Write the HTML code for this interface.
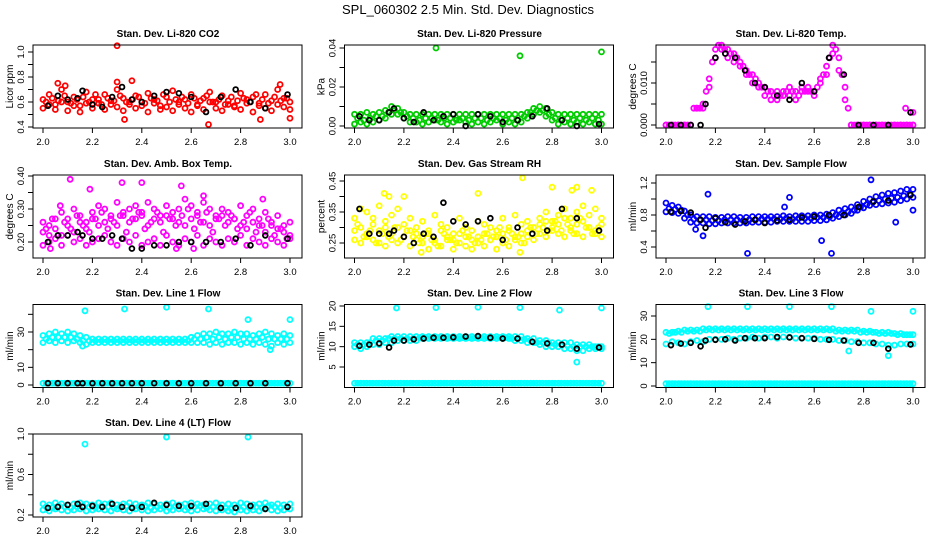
<!DOCTYPE html>
<html><head><meta charset="utf-8"><style>
html,body{margin:0;padding:0;background:#fff;}
svg{display:block;font-family:"Liberation Sans",sans-serif;}
</style></head><body>
<svg id="chart" width="936" height="540" viewBox="0 0 936 540" xmlns="http://www.w3.org/2000/svg">
<rect width="936" height="540" fill="#fff"/>
<text x="468" y="14" font-size="13" text-anchor="middle">SPL_060302  2.5 Min. Std. Dev. Diagnostics</text>
</svg>
<script>
// shared time arrays
const times = [2.000,2.025,2.050,2.075,2.100,2.125,2.150,2.175,2.200,2.225,2.250,2.275,2.300,2.325,2.350,2.375,2.400,2.425,2.450,2.475,2.500,2.525,2.550,2.575,2.600,2.625,2.650,2.675,2.700,2.725,2.750,2.775,2.800,2.825,2.850,2.875,2.900,2.925,2.950,2.975,3.000];
const times2 = [2.0125,2.0375,2.0625,2.0875,2.1125,2.1375,2.1625,2.1875,2.2125,2.2375,2.2625,2.2875,2.3125,2.3375,2.3625,2.3875,2.4125,2.4375,2.4625,2.4875,2.5125,2.5375,2.5625,2.5875,2.6125,2.6375,2.6625,2.6875,2.7125,2.7375,2.7625,2.7875,2.8125,2.8375,2.8625,2.8875,2.9125,2.9375,2.9625,2.9875];
const blackTimes = [2.02,2.06,2.10,2.14,2.16,2.20,2.24,2.28,2.32,2.36,2.40,2.45,2.50,2.55,2.60,2.66,2.72,2.78,2.84,2.90,2.99];
const xTicks = [2.0,2.2,2.4,2.6,2.8,3.0];

// Panel 1: CO2
const co2A = [.62,.66,.58,.70,.60,.64,.57,.68,.62,.59,.66,.61,.70,.63,.58,.65,.60,.67,.62,.57,.64,.69,.60,.62,.66,.58,.63,.68,.60,.65,.61,.57,.67,.62,.64,.59,.66,.61,.70,.63,.60];
const co2B = [.55,.58,.54,.60,.53,.57,.52,.59,.55,.62,.54,.58,.56,.53,.60,.55,.57,.52,.59,.54,.56,.53,.58,.55,.52,.57,.54,.60,.55,.53,.58,.56,.54,.59,.52,.57,.55,.53,.58,.56,.54];
const co2C = [.60,.63,.61,.65,.59,.62,.64,.60,.66,.58,.63,.61,.65,.60,.62,.64,.59,.63,.61,.66,.60,.62,.64,.59,.63,.61,.65,.60,.62,.58,.64,.61,.63,.60,.66,.62,.59,.64,.61,.63];
const co2OutX = [2.30,2.06,2.30,2.36,2.67,2.96,2.88,3.00,2.33,2.09];
const co2OutY = [1.05,.75,.76,.77,.42,.74,.46,.47,.46,.73];
const co2Black = [.57,.65,.62,.63,.69,.58,.56,.64,.72,.62,.60,.65,.68,.67,.64,.52,.64,.70,.60,.55,.66];

// Panel 2: Pressure
const presA = [.006,.006,.007,.006,.007,.008,.010,.009,.007,.006,.006,.006,.006,.006,.006,.006,.006,.006,.006,.006,.006,.006,.006,.006,.006,.006,.006,.006,.007,.009,.010,.009,.007,.006,.006,.006,.006,.006,.006,.006,.006];
const presB = [.001,.002,.001,.002,.003,.004,.006,.006,.004,.002,.002,.001,.002,.003,.002,.001,.002,.003,.002,.001,.002,.001,.002,.003,.001,.002,.001,.002,.004,.006,.007,.005,.003,.001,.002,.001,.002,.001,.002,.001,.001];
const presC = [.004,.003,.004,.005,.005,.007,.008,.007,.005,.004,.003,.004,.004,.003,.004,.004,.003,.004,.003,.004,.004,.003,.004,.004,.003,.004,.003,.005,.007,.008,.008,.006,.004,.003,.004,.003,.004,.003,.004,.003];
const presOutX = [2.33,2.67,3.00];
const presOutY = [.040,.036,.038];
const presBlack = [.005,.003,.003,.007,.009,.004,.002,.007,.003,.005,.006,.000,.006,.005,.002,.003,.005,.009,.003,.000,.001];

// Panel 3: Li-820 Temp
const tempA = [0,0,0,0,0,.004,.005,.011,.018,.019,.018,.017,.015,.013,.012,.010,.009,.008,.008,.008,.009,.008,.009,.009,.008,.011,.014,.019,.016,.009,0,0,0,0,0,0,0,0,0,0,0];
const tempB = [0,0,0,0,0,.004,.004,.009,.016,.018,.016,.015,.014,.012,.010,.009,.007,.006,.006,.007,.007,.006,.008,.008,.007,.010,.012,.017,.013,.006,0,0,0,0,0,0,0,0,0,0,0];
const tempC = [0,0,0,0,.004,.004,.008,.015,.019,.018,.017,.016,.014,.012,.011,.009,.008,.007,.007,.008,.008,.007,.008,.008,.009,.012,.016,.018,.012,.004,0,0,0,0,0,0,0,0,0,0];
const tempOutX = [2.97,3.00];
const tempOutY = [.004,.003];
const tempBlack = [0,0,0,0,.005,.016,.017,.016,.013,.010,.009,.007,.006,.010,.008,.016,.012,0,0,0,.003];

// Panel 4: Amb Box Temp
const ambA = [.26,.25,.27,.29,.27,.30,.28,.26,.29,.31,.30,.28,.32,.29,.30,.31,.29,.32,.30,.28,.31,.29,.30,.33,.31,.29,.32,.30,.28,.30,.29,.27,.31,.28,.30,.27,.29,.26,.28,.25,.26];
const ambC = [.23,.22,.24,.22,.25,.23,.26,.24,.27,.25,.26,.27,.25,.28,.26,.27,.28,.25,.27,.26,.28,.27,.26,.25,.27,.28,.26,.25,.27,.28,.26,.27,.25,.24,.26,.25,.23,.25,.24,.23,.22];
const ambB = [.19,.20,.21,.19,.22,.20,.21,.19,.20,.21,.22,.20,.19,.21,.20,.22,.19,.20,.21,.19,.22,.20,.19,.21,.20,.22,.19,.21,.20,.19,.21,.20,.22,.19,.21,.20,.19,.21,.20,.19,.21];
const ambD = [.24,.27,.22,.26,.24,.28,.25,.23,.27,.29,.24,.26,.28,.23,.27,.29,.24,.26,.29,.23,.27,.25,.28,.30,.24,.26,.29,.23,.27,.25,.28,.24,.26,.29,.23,.25,.27,.22,.24,.21];
const ambOutX = [2.11,2.19,2.32,2.40,2.56,2.89,2.03,2.54,2.61,2.07,2.65];
const ambOutY = [.39,.36,.38,.38,.37,.33,.18,.18,.18,.31,.34];
const ambBlack = [.20,.22,.22,.23,.22,.21,.21,.22,.21,.18,.18,.19,.19,.20,.20,.20,.20,.21,.19,.22,.21];

// Panel 5: Gas Stream RH
const rhA = [.33,.36,.35,.33,.37,.32,.34,.36,.31,.33,.30,.32,.29,.34,.31,.30,.28,.33,.30,.29,.32,.31,.30,.29,.33,.30,.34,.31,.32,.30,.33,.35,.32,.34,.36,.33,.35,.37,.34,.36,.33];
const rhC = [.29,.30,.28,.31,.29,.30,.28,.30,.27,.29,.28,.27,.28,.26,.29,.27,.26,.28,.27,.26,.27,.28,.26,.27,.28,.29,.27,.28,.29,.30,.31,.32,.30,.31,.33,.30,.31,.32,.30,.29,.31];
const rhB = [.26,.25,.27,.26,.25,.24,.26,.25,.27,.24,.26,.25,.23,.25,.24,.26,.23,.25,.24,.23,.25,.24,.26,.23,.25,.24,.26,.25,.27,.26,.28,.27,.29,.28,.27,.29,.28,.27,.30,.28,.27];
const rhD = [.31,.27,.29,.25,.28,.27,.30,.26,.29,.27,.25,.28,.26,.24,.28,.26,.25,.29,.27,.25,.26,.28,.27,.30,.26,.28,.27,.25,.30,.28,.30,.29,.32,.29,.31,.28,.33,.30,.28,.30];
const rhOutX = [2.12,2.20,2.68,2.80,2.88,2.90,2.67,2.27,2.50,2.14,2.96];
const rhOutY = [.41,.40,.46,.43,.42,.43,.22,.22,.41,.40,.42];
const rhBlack = [.36,.28,.28,.28,.29,.27,.25,.28,.27,.38,.32,.31,.32,.33,.26,.30,.28,.29,.36,.33,.29];

// Panel 6: Sample Flow
const flowA = [.95,.92,.90,.85,.80,.78,.78,.78,.77,.77,.78,.78,.77,.77,.78,.78,.78,.78,.78,.79,.78,.79,.79,.79,.80,.80,.81,.83,.86,.88,.90,.93,.97,1.00,1.03,1.05,1.07,1.08,1.10,1.12,1.12];
const flowB = [.84,.83,.82,.76,.71,.70,.70,.69,.69,.70,.70,.70,.70,.70,.71,.71,.71,.71,.72,.72,.72,.72,.72,.72,.73,.73,.74,.76,.78,.80,.82,.86,.89,.92,.93,.94,.95,.96,.98,1.00,1.02];
const flowC = [.88,.87,.86,.80,.75,.74,.74,.73,.73,.74,.74,.74,.73,.74,.74,.75,.75,.75,.75,.76,.75,.76,.76,.76,.77,.77,.78,.80,.82,.84,.86,.90,.93,.96,.98,1.00,1.01,1.02,1.04,1.06];
const flowOutX = [2.17,2.15,2.33,2.50,2.63,2.67,2.83,2.93,3.00,2.12,2.48];
const flowOutY = [1.06,.54,.32,1.02,.48,.32,1.24,.71,.86,.62,.90];
const flowBlack = [.84,.85,.83,.74,.64,.76,.71,.68,.72,.74,.70,.73,.74,.77,.78,.80,.80,.90,.97,.98,1.05];

// shared low-band arrays (flows near zero)
const lowBand = [1,1,1,1,1,1,1,1,1,1,1,1,1,1,1,1,1,1,1,1,1,1,1,1,1,1,1,1,1,1,1,1,1,1,1,1,1,1,1,1,1];
const lowBandMid = [1,1,1,1,1,1,1,1,1,1,1,1,1,1,1,1,1,1,1,1,1,1,1,1,1,1,1,1,1,1,1,1,1,1,1,1,1,1,1,1];

// Panel 7: Line 1 Flow
const l1A = [28,29,30,29,30,29,28,27,26,26,26,26,26,26,26,26,26,26,26,26,26,26,26,26,27,28,29,29,30,29,29,30,29,29,28,29,30,29,28,29,28];
const l1B = [24,25,24,25,24,25,24,23,24,24,24,24,24,24,24,24,24,24,24,24,24,24,24,24,24,24,24,23,24,23,24,24,23,24,23,24,23,22,24,23,24];
const l1C = [26,27,27,27,27,26,25,25,25,25,25,25,25,25,25,25,25,25,25,25,25,25,25,25,26,26,27,26,27,26,27,27,26,26,26,27,26,26,26,26];
const l1OutX = [2.17,2.33,2.50,2.67,2.83,3.00,2.92,2.16];
const l1OutY = [42,43,44,43,37,37,20,22];
const l1Black = [1,1,1,1,1,1,1,1,1,1,1,1,1,1,1,1,1,1,1,1,1];

// Panel 8: Line 2 Flow
const l2A = [11,11,11,12,12,12,12.5,12.5,12.5,12.5,12.5,12.5,12.5,12.5,12.5,12.5,12.5,12.5,12.5,12.5,12.5,12.5,12.5,12.5,12.5,12.5,12.5,12.5,12,12,11.5,11.5,11,11,11,11,10.5,10.5,10.5,10,10];
const l2B = [10,9.5,10,10.5,10.5,11,11,11.5,11.5,11.5,11.5,12,12,12,12,12,12,12,12,12,12,12,12,12,12,12,11.5,11.5,11,11,10.5,10,10,10,9.5,9.5,9,9,9.5,9.5,9.5];
const l2C = [10.5,10.5,11,11.5,11.5,12,12,12,12,12,12.2,12.2,12.2,12.2,12.2,12.2,12.2,12.2,12.2,12.2,12.2,12.2,12.2,12.2,12.2,12,12,11.8,11.5,11,11,10.8,10.5,10.5,10.2,10,10,10,10,10];
const l2OutX = [2.17,2.33,2.50,2.67,2.83,3.00,2.90];
const l2OutY = [19.5,19.6,19.7,19.6,19.0,19.5,6.2];
const l2Black = [10.2,10.5,10.8,9.8,11.5,11.5,11.8,12.0,12.2,12.2,12.3,12.5,12.6,12.2,12.0,12.0,11.2,10.8,10.5,9.5,9.8];

// Panel 9: Line 3 Flow
const l3A = [23,23,23.5,24,24,24,24.5,24.5,24.5,24.5,24.5,24.5,24.5,24.5,24.5,24.5,24.5,24.5,24.5,24.5,24.5,24.5,24.5,24.5,24.5,24.5,24.5,24.5,24,24,24,24,23.5,23.5,23,23,23,22.5,22.5,22,22];
const l3B = [18,19,18.5,18,19,19.5,19,20,20,20,20.5,20,20.5,20.5,21,20.5,21,21,20.5,21,21,20.5,20.5,20.5,20.5,20,20,20,19.5,19.5,19,19,18.5,18.5,18,18,17.5,17.5,18,18,18];
const l3C = [22.5,23,23,23.5,23.5,23.5,24,24,24,24,24,24,24,24,24,24,24,24,24,24,24,24,24,24,24,24,24,23.5,23.5,23.5,23.5,23,23,23,22.5,22.5,22.5,22,22,22];
const l3OutX = [2.17,2.33,2.50,2.67,2.83,3.00,2.90,2.74];
const l3OutY = [34,34,34,34,32,32,13,15];
const l3Black = [17.5,18.2,18.5,17,19.5,19.8,20,19.5,20.5,20.5,20.5,21,20.8,20.5,20.2,19.8,19.5,18.5,18.5,16,17.8];

// Panel 10: Line 4 (LT) Flow
const l4A = [.31,.30,.32,.31,.30,.31,.32,.31,.30,.32,.31,.32,.30,.31,.32,.31,.30,.32,.31,.30,.31,.32,.30,.31,.32,.31,.30,.31,.32,.30,.31,.30,.32,.31,.30,.31,.32,.30,.31,.30,.31];
const l4B = [.25,.24,.26,.25,.24,.25,.26,.24,.25,.26,.25,.24,.26,.25,.24,.26,.25,.24,.25,.26,.24,.25,.26,.25,.24,.25,.26,.25,.24,.25,.24,.23,.25,.24,.25,.24,.26,.25,.24,.25,.26];
const l4C = [.28,.27,.29,.28,.27,.28,.29,.28,.27,.29,.28,.27,.28,.29,.27,.28,.29,.27,.28,.28,.27,.29,.28,.27,.28,.29,.27,.28,.28,.27,.26,.27,.28,.27,.28,.27,.29,.28,.27,.28];
const l4OutX = [2.17,2.50,2.83];
const l4OutY = [.90,.97,.97];
const l4Black = [.27,.28,.30,.31,.28,.29,.28,.31,.28,.27,.28,.32,.30,.29,.29,.31,.27,.27,.29,.26,.28];

const NS = "http://www.w3.org/2000/svg";
const svg = document.getElementById('chart');
function mk(tag, attrs, parent){
  const e = document.createElementNS(NS, tag);
  for (const k in attrs) e.setAttribute(k, attrs[k]);
  (parent||svg).appendChild(e);
  return e;
}
const colX = [0, 311.5, 623];
const rowY = [45, 175, 304.5, 434];
const panels = [
  {title:"Stan. Dev. Li-820 CO2", ylab:"Licor ppm", col:"#ff0000", c:0,r:0, y0:.4,y1:1.0, yPix:[127,52], ticks:[.4,.5,.6,.7,.8,.9,1.0], labels:[.4,.6,.8,1.0], fmt:1, series:[co2A,co2B], mid:[co2C], outX:co2OutX, outY:co2OutY, black:co2Black},
  {title:"Stan. Dev. Li-820 Pressure", ylab:"kPa", col:"#00cc00", c:1,r:0, y0:0,y1:.04, yPix:[126,48], ticks:[0,.01,.02,.03,.04], labels:[0,.02,.04], fmt:2, series:[presA,presB], mid:[presC], outX:presOutX, outY:presOutY, black:presBlack},
  {title:"Stan. Dev. Li-820 Temp.", ylab:"degrees C", col:"#ff00ff", c:2,r:0, y0:0,y1:.01, yPix:[125,83], ticks:[0,.005,.01,.015], labels:[0,.01], fmt:3, series:[tempA,tempB], mid:[tempC], outX:tempOutX, outY:tempOutY, black:tempBlack},
  {title:"Stan. Dev. Amb. Box Temp.", ylab:"degrees C", col:"#ff00ff", c:0,r:1, y0:.2,y1:.4, yPix:[242,176], ticks:[.2,.25,.3,.35,.4], labels:[.2,.3,.4], fmt:2, series:[ambA,ambC,ambB], mid:[ambD], outX:ambOutX, outY:ambOutY, black:ambBlack},
  {title:"Stan. Dev. Gas Stream RH", ylab:"percent", col:"#ffff00", c:1,r:1, y0:.25,y1:.45, yPix:[243,181], ticks:[.25,.3,.35,.4,.45], labels:[.25,.35,.45], fmt:2, series:[rhA,rhC,rhB], mid:[rhD], outX:rhOutX, outY:rhOutY, black:rhBlack},
  {title:"Stan. Dev. Sample Flow", ylab:"ml/min", col:"#0000ff", c:2,r:1, y0:.4,y1:1.2, yPix:[247,183], ticks:[.4,.6,.8,1.0,1.2], labels:[.4,.8,1.2], fmt:1, series:[flowA,flowB], mid:[flowC], outX:flowOutX, outY:flowOutY, black:flowBlack},
  {title:"Stan. Dev. Line 1 Flow", ylab:"ml/min", col:"#00ffff", c:0,r:2, y0:0,y1:30, yPix:[385,332], ticks:[0,10,20,30,40], labels:[0,10,30], fmt:0, series:[l1A,l1B,lowBand], mid:[l1C,lowBandMid], outX:l1OutX, outY:l1OutY, black:l1Black},
  {title:"Stan. Dev. Line 2 Flow", ylab:"ml/min", col:"#00ffff", c:1,r:2, y0:5,y1:20, yPix:[367,306], ticks:[5,10,15,20], labels:[5,10,15,20], fmt:0, series:[l2A,l2B,lowBand], mid:[l2C,lowBandMid], outX:l2OutX, outY:l2OutY, black:l2Black},
  {title:"Stan. Dev. Line 3 Flow", ylab:"ml/min", col:"#00ffff", c:2,r:2, y0:0,y1:30, yPix:[386,316], ticks:[0,10,20,30], labels:[0,10,20,30], fmt:0, series:[l3A,l3B,lowBand], mid:[l3C,lowBandMid], outX:l3OutX, outY:l3OutY, black:l3Black},
  {title:"Stan. Dev. Line 4 (LT) Flow", ylab:"ml/min", col:"#00ffff", c:0,r:3, y0:.2,y1:1.0, yPix:[515,434], ticks:[.2,.4,.6,.8,1.0], labels:[.2,.6,1.0], fmt:1, series:[l4A,l4B], mid:[l4C], outX:l4OutX, outY:l4OutY, black:l4Black}
];
panels.forEach((p, i) => {
  const ox = colX[p.c], top = rowY[p.r], bottom = top + 83;
  const left = ox + 33, right = ox + 302;
  const xs = v => ox + 43 + (v - 2.0) * 247;
  const ys = v => p.yPix[0] + (v - p.y0) / (p.y1 - p.y0) * (p.yPix[1] - p.yPix[0]);
  const g = mk('g', {});
  
  
  const t = mk('text', {x: ox + 168, y: top - 8, 'font-size': 10, 'font-weight': 'bold', 'text-anchor': 'middle'}, g);
  t.textContent = p.title;
  
  
  const yl = mk('text', {x: 0, y: 0, 'font-size': 10, 'text-anchor': 'middle', transform: `translate(${ox+13},${(top+bottom)/2}) rotate(-90)`}, g);
  yl.textContent = p.ylab;
  
  
  const pts = mk('g', {fill: 'none', 'stroke-width': 1.8}, g);
  
  
  p.series.forEach(arr => {
    arr.forEach((v, k) => {
      const c = mk('circle', {cx: xs(times[k]), cy: ys(v), r: 2.5, stroke: p.col}, pts);
      
      
    });
  });
  p.mid.forEach(arr => {
    arr.forEach((v, k) => {
      const c = mk('circle', {cx: xs(times2[k]), cy: ys(v), r: 2.5, stroke: p.col}, pts);
      
      
    });
  });
  p.outX.forEach((xv, k) => {
    const c = mk('circle', {cx: xs(xv), cy: ys(p.outY[k]), r: 2.5, stroke: p.col}, pts);
    
    
  });
  p.black.forEach((v, k) => {
    const c = mk('circle', {cx: xs(blackTimes[k]), cy: ys(v), r: 2.4, stroke: '#000'}, pts);
    
    
  });
  const box = mk('rect', {x: left, y: top, width: right-left, height: bottom-top, fill: 'none', stroke: '#000', 'stroke-width': 1}, g);
  
  
  const xa = mk('g', {stroke: '#000', 'stroke-width': 1}, g);
  
  
  xTicks.forEach(v => {
    mk('line', {x1: xs(v), x2: xs(v), y1: bottom, y2: bottom + 5}, xa);
    const tl = mk('text', {x: xs(v), y: bottom + 17, 'font-size': 9.5, 'text-anchor': 'middle', stroke: 'none'}, xa);
    tl.textContent = v.toFixed(1);
    
    
  });
  const ya = mk('g', {stroke: '#000', 'stroke-width': 1}, g);
  
  
  p.ticks.forEach(v => {
    const yy = ys(v);
    if (yy < top - 1 || yy > bottom + 1) return;
    mk('line', {x1: left - 5, x2: left, y1: yy, y2: yy}, ya);
  });
  p.labels.forEach(v => {
    const yy = ys(v);
    const tl = mk('text', {x: 0, y: 0, 'font-size': 9.5, 'text-anchor': 'middle', stroke: 'none', transform: `translate(${left-9},${yy}) rotate(-90)`}, ya);
    tl.textContent = v.toFixed(p.fmt);
    
    
  });
});
</script>
</body></html>
